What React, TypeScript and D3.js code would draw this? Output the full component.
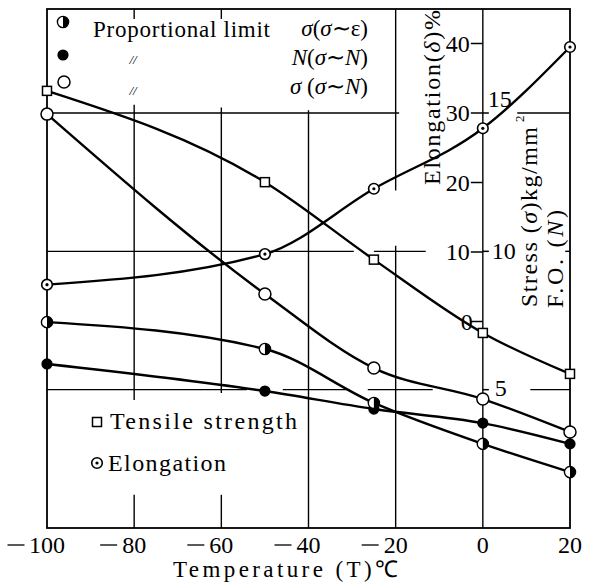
import * as d3 from 'd3';
import type { ReactNode } from 'react';

// temperatures (°C) at which the specimens were tested
const temps = [-100, -50, -25, 0, 20];
// stress, kg/mm²
const tensile = [15.8, 12.5, 9.7, 7.05, 5.57];
const propLimit = [7.44, 6.47, 4.52, 3.04, 2.02];
const stressN = [14.96, 8.46, 5.78, 4.66, 3.47];
// F.O. (N)
const foN = [5.93, 4.95, 4.3, 3.79, 3.04];
// elongation, %
const elongation = [5.3, 9.7, 19.1, 27.8, 39.5];

const xTicks = [-100, -80, -60, -40, -20, 0, 20];
const elongTicks = [0, 10, 20, 30, 40];
const stressTicks = [5, 10, 15];

const W = 594;
const H = 585;

const x = d3.scaleLinear().domain([-100, 20]).range([47, 570]);
const y = d3.scaleLinear().domain([0, 15]).range([528, 113]);
const yE = d3.scaleLinear().domain([0, 40]).range([321.5, 43.5]);
const yTop = 9;

// broken grid lines of the original drawing (data units)
const vGrid: [number, [number, number][]][] = [
  [-80, [[18.4, 18.76], [4.63, 15.3], [0, 1.2]]],
  [-60, [[18.4, 18.76], [4.88, 15.2], [0, 1.2]]],
  [-40, [[0, 15.1]]],
  [-20, [[12.2, 18.76], [0, 10.2]]],
  [0, [[0, 18.76]]],
];
const hGrid: [number, [number, number][]][] = [
  [15, [[-100, -19.2], [7.9, 20]]],
  [10, [[-100, -29.6], [-25, -13.1], [18.9, 20]]],
  [5, [[-100, -54.1], [-45.9, -30.6], [-26.4, -11.5], [10.9, 20]]],
];

type Kind = 'square' | 'dot' | 'open' | 'filled' | 'half';

function Marker({ cx, cy, kind }: { cx: number; cy: number; kind: Kind }) {
  if (kind === 'square')
    return <rect x={cx - 4.5} y={cy - 4.5} width={9} height={9} fill="#fff" stroke="#000" strokeWidth={1.5} />;
  if (kind === 'dot')
    return (
      <g>
        <circle cx={cx} cy={cy} r={5.3} fill="#fff" stroke="#000" strokeWidth={1.6} />
        <circle cx={cx} cy={cy} r={1.6} fill="#000" />
      </g>
    );
  if (kind === 'open') return <circle cx={cx} cy={cy} r={6} fill="#fff" stroke="#000" strokeWidth={1.5} />;
  if (kind === 'filled') return <circle cx={cx} cy={cy} r={5.6} fill="#000" />;
  const r = 5.6;
  return (
    <g>
      <circle cx={cx} cy={cy} r={r} fill="#fff" stroke="#000" strokeWidth={1.4} />
      <path d={`M${cx},${cy - r} A${r},${r} 0 0 1 ${cx},${cy + r} Z`} fill="#000" />
    </g>
  );
}

// serif text, font given on the element and in its style
function T(props: {
  x?: number;
  y?: number;
  size?: number;
  anchor?: 'start' | 'middle' | 'end';
  len?: number;
  transform?: string;
  italic?: boolean;
  children: ReactNode;
}) {
  const size = props.size ?? 23;
  return (
    <text
      x={props.x}
      y={props.y}
      fontFamily="Liberation Serif"
      fontSize={size}
      style={{ fontFamily: 'Liberation Serif', fontSize: `${size}px`, fontStyle: props.italic ? 'italic' : 'normal' }}
      textAnchor={props.anchor ?? 'start'}
      textLength={props.len}
      lengthAdjust={props.len ? 'spacing' : undefined}
      transform={props.transform}
      fill="#000"
    >
      {props.children}
    </text>
  );
}

const I = ({ children }: { children: ReactNode }) => <tspan style={{ fontStyle: 'italic' }}>{children}</tspan>;

const series: { values: number[]; kind: Kind; scale: d3.ScaleLinear<number, number> }[] = [
  { values: tensile, kind: 'square', scale: y },
  { values: elongation, kind: 'dot', scale: yE },
  { values: stressN, kind: 'open', scale: y },
  { values: foN, kind: 'filled', scale: y },
  { values: propLimit, kind: 'half', scale: y },
];

export default function App() {
  const x0 = x(0);
  return (
    <svg width={W} height={H} style={{ position: 'absolute', left: 0, top: 0, background: '#fff' }}>
      <style>{`text { font-family: 'Liberation Serif', serif; }`}</style>
      <rect width={W} height={H} fill="#fff" />
      {/* grid */}
      <g stroke="#000" strokeWidth={1.4}>
        {vGrid.map(([t, segs]) =>
          segs.map(([a, b], i) => (
            <line key={`v${t}-${i}`} x1={x(t)} x2={x(t)} y1={Math.max(y(b), yTop)} y2={y(a)} />
          ))
        )}
        {hGrid.map(([s, segs]) =>
          segs.map(([a, b], i) => <line key={`h${s}-${i}`} x1={x(a)} x2={x(b)} y1={y(s)} y2={y(s)} />)
        )}
      </g>
      {/* frame */}
      <rect x={x(-100)} y={yTop} width={x(20) - x(-100)} height={y(0) - yTop} fill="none" stroke="#000" strokeWidth={1.8} />

      {/* inner axis at 0 °C */}
      <g stroke="#000" strokeWidth={1.5}>
        {elongTicks.map((e) => (
          <line key={`et${e}`} x1={x0 - 12} x2={x0} y1={yE(e)} y2={yE(e)} />
        ))}
        {stressTicks.map((s) => (
          <line key={`st${s}`} x1={x0} x2={x0 + 6} y1={y(s)} y2={y(s)} />
        ))}
      </g>
      {elongTicks.map((e) => (
        <T key={`el${e}`} x={e === 0 ? x0 - 10 : x0 - 13} y={yE(e) + 8} anchor="end" size={24}>
          {e}
        </T>
      ))}
      {stressTicks.map((s) => (
        <T
          key={`sl${s}`}
          x={x0 + (s === 15 ? 5 : s === 10 ? 9 : 12)}
          y={y(s) + (s === 15 ? -6 : s === 5 ? 6 : 8)}
          size={24}
        >
          {s}
        </T>
      ))}

      {/* curves */}
      {series.map((sr, k) => {
        const line = d3
          .line<number>()
          .x((_, i) => x(temps[i]))
          .y((d) => sr.scale(d))
          .curve(d3.curveMonotoneX);
        return <path key={`c${k}`} d={line(sr.values) ?? ''} fill="none" stroke="#000" strokeWidth={2.4} />;
      })}
      {series.map((sr, k) =>
        sr.values.map((v, i) => <Marker key={`m${k}-${i}`} cx={x(temps[i])} cy={sr.scale(v)} kind={sr.kind} />)
      )}

      {/* x axis labels */}
      {xTicks.map((t) => {
        const s = String(Math.abs(t));
        const w = s.length * 11;
        return (
          <g key={`xt${t}`}>
            <T x={x(t)} y={553} anchor="middle" size={24}>
              {s}
            </T>
            {t < 0 && <line x1={x(t) - w / 2 - 23} x2={x(t) - w / 2 - 6} y1={545} y2={545} stroke="#000" strokeWidth={1.3} />}
          </g>
        );
      })}
      <T x={173} y={577} len={225} size={23}>
        Temperature (T)℃
      </T>

      {/* top legend */}
      <Marker cx={63} cy={22} kind="half" />
      <Marker cx={63} cy={55} kind="filled" />
      <Marker cx={64} cy={82} kind="open" />
      <T x={93} y={37} len={177}>
        Proportional limit
      </T>
      <T x={368} y={36} anchor="end">
        <I>σ</I>(<I>σ</I>∼ε)
      </T>
      <T x={368} y={65} anchor="end">
        <I>N</I>(<I>σ</I>∼<I>N</I>)
      </T>
      <T x={368} y={94} anchor="end">
        <I>σ</I> (<I>σ</I>∼<I>N</I>)
      </T>
      <T x={133} y={64} anchor="middle" size={13} italic>
        //
      </T>
      <T x={133} y={95} anchor="middle" size={13} italic>
        //
      </T>

      {/* lower legend */}
      <Marker cx={97} cy={422} kind="square" />
      <Marker cx={97} cy={463} kind="dot" />
      <T x={110} y={429} len={187} size={24}>
        Tensile strength
      </T>
      <T x={108} y={471} len={118} size={24}>
        Elongation
      </T>

      {/* rotated axis titles */}
      <T transform="translate(440,185) rotate(-90)" len={175} size={24}>
        Elongation(<I>δ</I>)%
      </T>
      <T transform="translate(537,307) rotate(-90)" len={180} size={24}>
        Stress (<I>σ</I>)kg/mm
      </T>
      <T transform="translate(524,122) rotate(-90)" size={13}>
        2
      </T>
      <T transform="translate(563,308) rotate(-90)" len={98} size={24}>
        F.O. (<I>N</I>)
      </T>
    </svg>
  );
}
